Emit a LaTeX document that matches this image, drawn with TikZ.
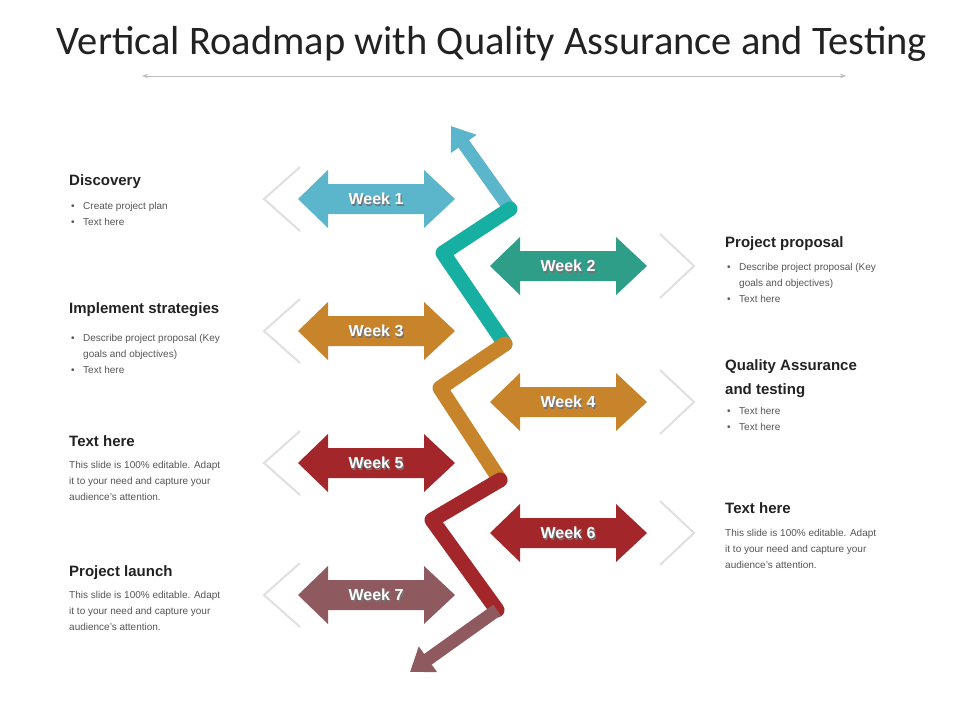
\documentclass[tikz,border=0pt]{standalone}
\usepackage{fontspec}
\setmainfont{Liberation Sans}
\newfontfamily\titlefont{Carlito}
\usetikzlibrary{arrows.meta}
\definecolor{cA}{HTML}{5BB5CB}
\definecolor{cB}{HTML}{2E9E88}
\definecolor{cBp}{HTML}{17AFA2}
\definecolor{cC}{HTML}{C8842A}
\definecolor{cD}{HTML}{A3262A}
\definecolor{cE}{HTML}{8E5A60}
\definecolor{txt}{HTML}{222222}
\definecolor{body}{HTML}{555555}
\tikzset{
  wkt/.style={text=white, font=\bfseries\fontsize{16}{16}\selectfont},
  wks/.style={text=black!55, font=\bfseries\fontsize{16}{16}\selectfont},
  chev/.style={draw=black!12, line width=2pt, line join=miter},
  hd/.style={anchor=base west, font=\bfseries\fontsize{15}{16}\selectfont, text=txt, inner sep=0pt},
  bt/.style={anchor=base west, font=\fontsize{10}{12}\selectfont, text=body, inner sep=0pt},
  seg/.style={line width=15pt, line cap=round, line join=round},
}
\begin{document}
\begin{tikzpicture}[x=1pt,y=-1pt]
\useasboundingbox (0,0) rectangle (960,720);
\fill[white] (0,0) rectangle (960,720);
% title
\node[anchor=center, font=\titlefont\fontsize{40.5}{40}\selectfont, text=txt] (title) at (492,44) {Vertical Roadmap with Quality Assurance and Testing};
\coordinate (ul) at (142,76); \coordinate (ur) at (846,76);
\draw[black!25, line width=0.8pt, {Stealth[length=6pt]}-{Stealth[length=6pt]}] (ul) -- (ur);
% chevrons
\foreach \y in {199,331,463,595} \draw[chev] (300,\y-32) -- (264,\y) -- (300,\y+32);
\foreach \y in {266,402,533} \draw[chev] (660,\y-32) -- (694,\y) -- (660,\y+32);
% zigzag
\coordinate (z0) at (451,126); \coordinate (z1) at (510,209); \coordinate (z2) at (443,253);
\coordinate (z3) at (505,344); \coordinate (z4) at (440,388); \coordinate (z5) at (500,480);
\coordinate (z6) at (432,520); \coordinate (z7) at (497,610); \coordinate (z8) at (410,672);
\draw[cA, line width=13pt, -{Triangle[length=22pt,width=30pt]}] (z1) -- (z0);
\draw[seg, cBp] (z1) -- (z2) -- (z3);
\draw[seg, cC] (z3) -- (z4) -- (z5);
\draw[seg, cD] (z5) -- (z6) -- (z7);
\draw[cE, line width=13pt, -{Triangle[length=22pt,width=30pt]}] (z7) -- (z8);
% week arrows
\foreach \n/\x/\y/\c in {1/376/199/cA,2/568/266/cB,3/376/331/cC,4/568/402/cC,5/376/463/cD,6/568/533/cD,7/376/595/cE}{
  \fill[\c] (\x-78,\y) -- (\x-48,\y-29) -- (\x-48,\y-15) -- (\x+48,\y-15) -- (\x+48,\y-29)
     -- (\x+79,\y) -- (\x+48,\y+29) -- (\x+48,\y+15) -- (\x-48,\y+15) -- (\x-48,\y+29) -- cycle;
  \node[wks] (ws\n) at (\x+1.3,\y+1.3) {Week \n};
  \node[wkt] (wt\n) at (\x,\y) {Week \n};
}
% left texts
\node[hd] (h1) at (69,185) {Discovery};
\node[bt] (b11) at (71,209) {•}; \node[bt] (t11) at (83,209) {Create project plan};
\node[bt] (b12) at (71,225) {•}; \node[bt] (t12) at (83,225) {Text here};
\node[hd] (h3) at (69,313) {Implement strategies};
\node[bt] (b31) at (71,341) {•}; \node[bt] (t31) at (83,341) {Describe project proposal (Key};
\node[bt] (t31b) at (83,357) {goals and objectives)};
\node[bt] (b32) at (71,373) {•}; \node[bt] (t32) at (83,373) {Text here};
\node[hd] (h5) at (69,446) {Text here};
\node[bt] (p51) at (69,468) {This slide is 100\% editable.  Adapt};
\node[bt] (p52) at (69,484) {it to your need and capture your};
\node[bt] (p53) at (69,500) {audience’s  attention.};
\node[hd] (h7) at (69,576) {Project launch};
\node[bt] (p71) at (69,598) {This slide is 100\% editable.  Adapt};
\node[bt] (p72) at (69,614) {it to your need and capture your};
\node[bt] (p73) at (69,630) {audience’s  attention.};
% right texts
\node[hd] (h2) at (725,247) {Project proposal};
\node[bt] (b21) at (727,270) {•}; \node[bt] (t21) at (739,270) {Describe project proposal (Key};
\node[bt] (t21b) at (739,286) {goals and objectives)};
\node[bt] (b22) at (727,302) {•}; \node[bt] (t22) at (739,302) {Text here};
\node[hd] (h4) at (725,370) {Quality Assurance};
\node[hd] (h4b) at (725,394) {and testing};
\node[bt] (b41) at (727,414) {•}; \node[bt] (t41) at (739,414) {Text here};
\node[bt] (b42) at (727,430) {•}; \node[bt] (t42) at (739,430) {Text here};
\node[hd] (h6) at (725,513) {Text here};
\node[bt] (p61) at (725,536) {This slide is 100\% editable.  Adapt};
\node[bt] (p62) at (725,552) {it to your need and capture your};
\node[bt] (p63) at (725,568) {audience’s  attention.};
\end{tikzpicture}
\end{document}
